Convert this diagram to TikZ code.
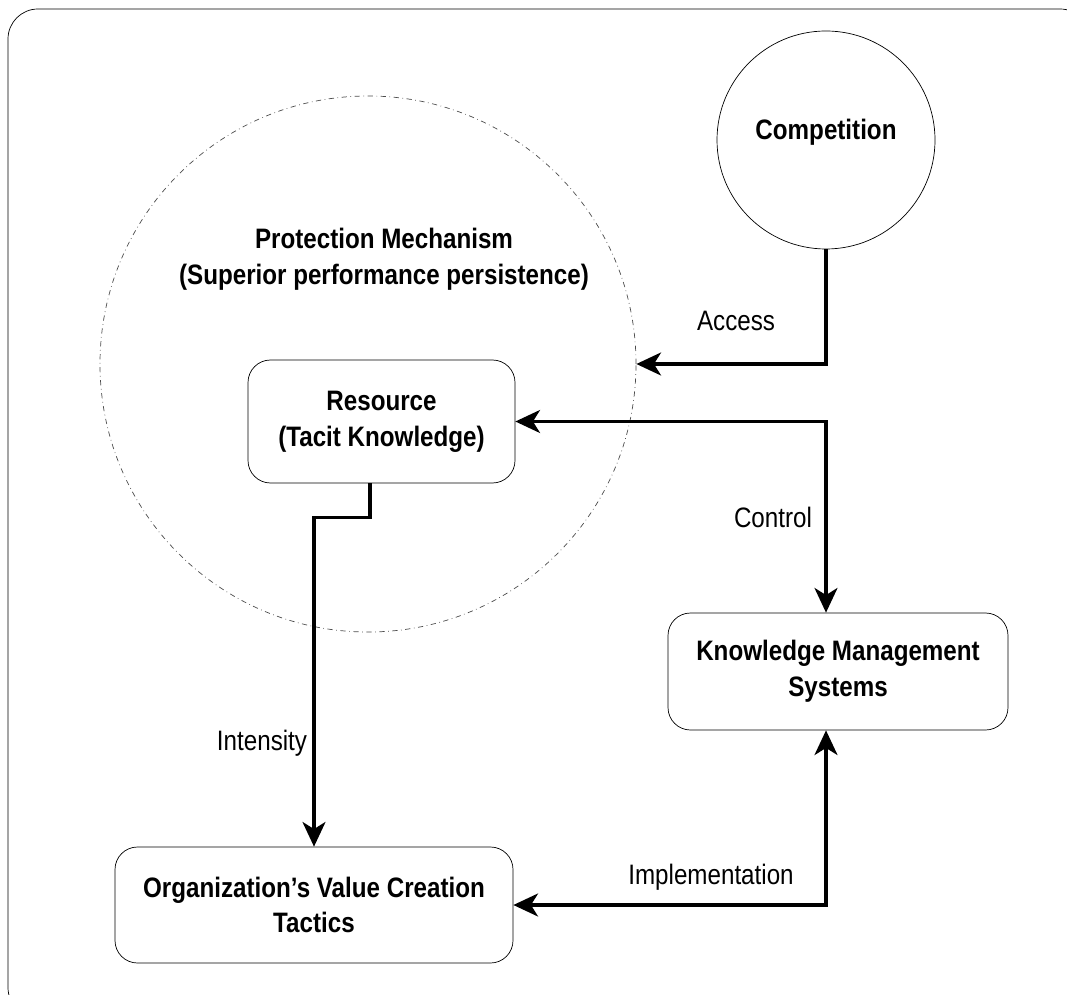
\documentclass[tikz,border=0pt]{standalone}
\usepackage{fontspec}
\setmainfont{Liberation Sans}[FakeStretch=0.86]
\usetikzlibrary{positioning, arrows.meta, calc}
\newcommand{\txt}{\fontsize{16}{20.4}\selectfont}
\tikzset{>={Stealth[length=14pt, width=13pt, inset=4pt]},
box/.style={draw, thin, rounded corners=0.45cm, align=center, font=\txt\bfseries},
flow/.style={line width=2.1pt},
}

\begin{document}
\begin{tikzpicture}[font=\txt]
    \useasboundingbox (0,0) rectangle (21.34,-19.9);
    \clip (0,0) rectangle (21.34,-19.9);
    % outer frame
    \draw[thin, rounded corners=0.6cm] (0.16,-0.18) rectangle (21.8,-20.35);
    % circles
    \node[circle, draw, gray!60!black, thin, dash dot, minimum size=10.72cm] (prot) at (7.36,-7.28) {};
    \node[circle, draw, thin, minimum size=4.36cm] (comp) at (16.52,-2.8) {};
    \node[font=\txt\bfseries] (comptext) at (16.52,-2.64) {Competition};
    \node[align=center, font=\txt\bfseries] (prottext) at (7.68,-5.18) {Protection Mechanism\\(Superior performance persistence)};
    % boxes
    \node[box, minimum width=5.34cm, minimum height=2.46cm] (res) at (7.63,-8.43) {Resource\\(Tacit Knowledge)};
    \node[box, minimum width=6.8cm, minimum height=2.34cm] (kms) at (16.76,-13.43) {Knowledge Management\\Systems};
    \node[box, minimum width=7.96cm, minimum height=2.32cm] (org) at (6.28,-18.1) {Organization's Value Creation\\Tactics};
    % connectors
    \draw[flow, ->] (comp.south) |- (prot.east);
    \draw[flow, <->] (res.east) -| (comp.south |- kms.north);
    \draw[flow, ->] ($(res.south)+(-0.23,0)$) -- ++(0,-0.68) -| (org.north);
    \draw[flow, <->] (comp.south |- kms.south) |- (org.east);
    % labels
    \node (access) at (14.72,-6.42) {Access};
    \node (control) at (15.46,-10.34) {Control};
    \node (intensity) at (5.24,-14.86) {Intensity};
    \node (impl) at (14.22,-17.54) {Implementation};
\end{tikzpicture}
\end{document}
